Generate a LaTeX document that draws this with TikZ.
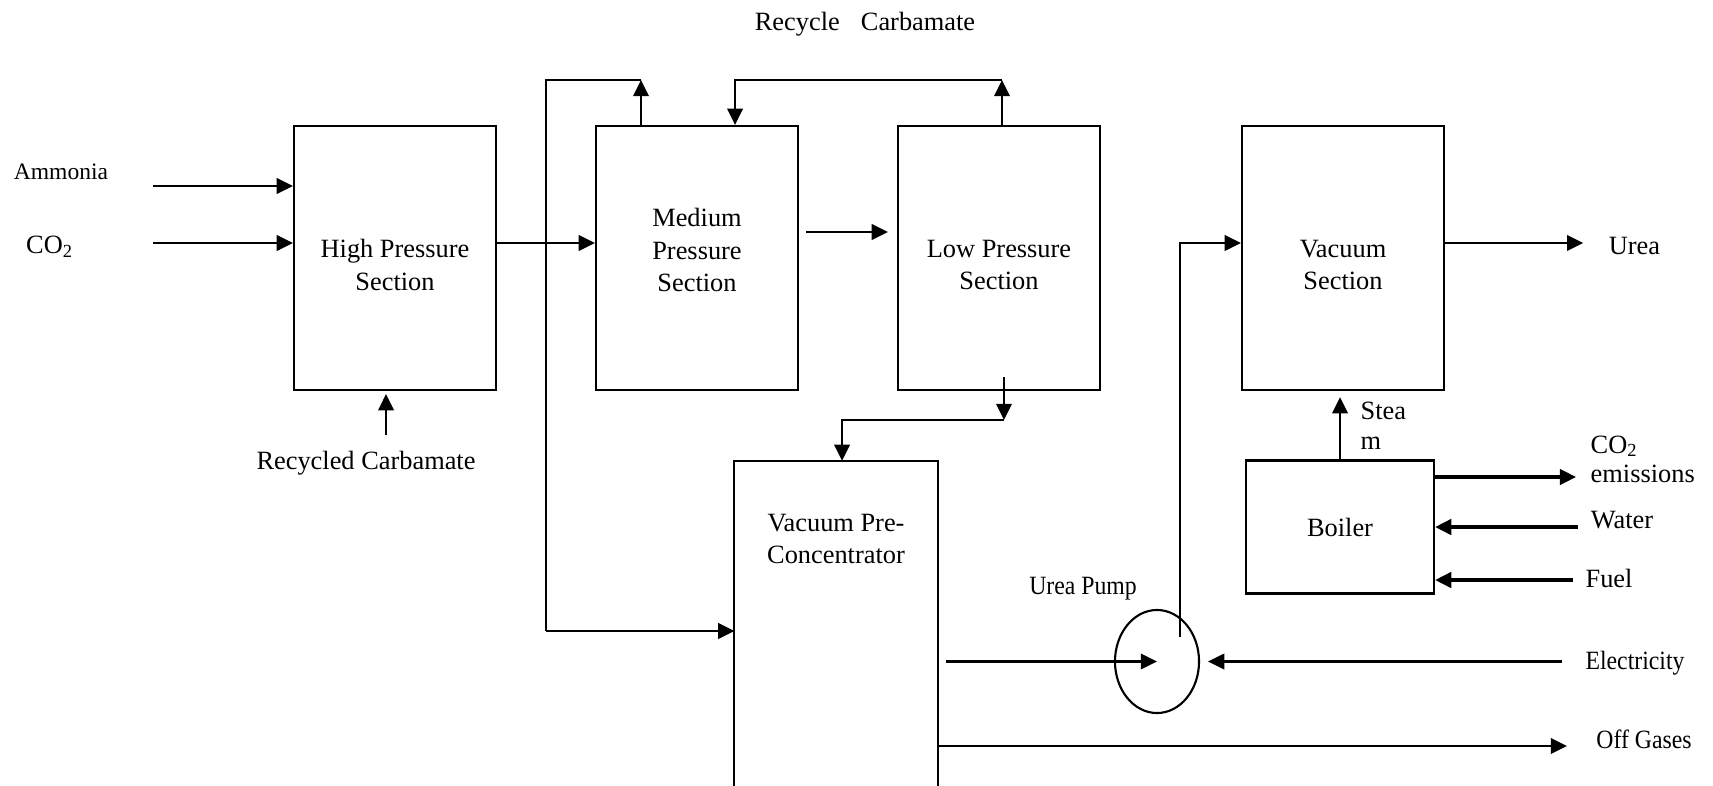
\documentclass[tikz,border=0pt]{standalone}
\usepackage{fontspec}
\setmainfont{Liberation Serif}
\newfontfamily\narrowserif[FakeStretch=0.9]{Liberation Serif}
\usetikzlibrary{arrows.meta,shapes.geometric,positioning}
\begin{document}
\begin{tikzpicture}[x=0.01cm, y=-0.01cm, line join=miter, >={Triangle[length=4.6pt,width=4.4pt]},
	font=\fontsize{7.5}{9.3}\selectfont,
	unit/.style={draw, line width=0.6pt, minimum width=2.02cm, minimum height=2.64cm, align=center, inner sep=0pt},
	unittext/.style={inner sep=0pt, align=center, yshift=#1},
	flow/.style={->, line width=0.6pt},
	heavy/.style={->, line width=0.9pt},
	lbl/.style={inner sep=0pt, align=left},
	narrow/.style={font=\narrowserif\fontsize{7.5}{9}\selectfont}]
	\useasboundingbox (0,0) rectangle (1713,785);
	
	% process units
	\node[unit, label={[unittext=-0.07cm]center:High Pressure\\Section}] (hp) at (395,258) {};
	\node[unit, label={[unittext=0.08cm]center:Medium\\Pressure\\Section}] (mp) at (697,258) {};
	\node[unit, label={[unittext=-0.07cm]center:Low Pressure\\Section}] (lp) at (999,258) {};
	\node[unit, label={[unittext=-0.07cm]center:Vacuum\\Section}] (vs) at (1343,258) {};
	\node[unit, minimum width=1.88cm, minimum height=1.33cm] (boiler) at (1340,527) {Boiler};
	\node[unit, draw=none, minimum width=2.01cm, minimum height=3.23cm] (vpc) at (836,623.5) {};
	\draw[line width=0.6pt] (vpc.south west) |- (vpc.north east) -- (vpc.south east);
	\node[lbl, align=center] (vpct) at (836,539) {Vacuum Pre-\\Concentrator};
	\node[draw, ellipse, line width=0.6pt, minimum width=0.84cm, minimum height=1.03cm, inner sep=0pt] (pump) at (1157,661.5) {};
	
	% stream labels
	\node[lbl, font=\fontsize{6.7}{8}\selectfont] (nh3) at (61,172) {Ammonia};
	\node[lbl] (co2) at (50,247) {CO\textsubscript{2}};
	\node[lbl] (rcb) at (366,463) {Recycled Carbamate};
	\node[lbl] (rct) at (865,24) {Recycle\hspace{6pt}Carbamate};
	\node[lbl] (urea) at (1634.5,246) {Urea};
	\node[lbl, anchor=west, font=\fontsize{7.5}{8.5}\selectfont] (steam) at (1360,425.5) {Stea\\m};
	\node[lbl, anchor=west, font=\fontsize{7.5}{8.2}\selectfont] (co2e) at (1590,459) {CO\textsubscript{2}\\emissions};
	\node[lbl] (water) at (1622,520) {Water};
	\node[lbl] (fuel) at (1609,578) {Fuel};
	\node[lbl, narrow] (elec) at (1635,663) {Electricity};
	\node[lbl, narrow] (offg) at (1644,739) {Off Gases};
	\node[lbl, narrow] (upump) at (1083,589) {Urea Pump};
	
	% free ends and bends
	\coordinate (nh3In) at (153,186);
	\coordinate (co2In) at (153,243);
	\coordinate (rcIn) at (386,435);
	\coordinate (topA) at (641,80);
	\coordinate (loopL) at (546,631);
	\coordinate (topB) at (1002,80);
	\coordinate (topC) at (735,80);
	\coordinate (mlp) at (850,232);
	\coordinate (lpOut) at (1004,377);
	\coordinate (lpBend) at (1004,420);
	\coordinate (vpcIn) at (842,420);
	\coordinate (pumpUp) at (1180,637);
	\coordinate (emis) at (1576,477);
	\coordinate (waterIn) at (1578,527);
	\coordinate (fuelIn) at (1573,580);
	\coordinate (offOut) at (1567,746);
	
	% feeds to the high pressure section
	\draw[flow] (nh3In) -- (nh3In -| hp.west);
	\draw[flow] (co2In) -- (co2In -| hp.west);
	\draw[flow, shorten >=0.03cm] (rcIn) -- (rcIn |- hp.south);
	\draw[flow] (co2In -| hp.east) -- (co2In -| mp.west);
	
	% carbamate recycle loops
	\draw[flow] (topA |- mp.north) -- (topA);
	\draw[line width=0.6pt] (topA) -| (loopL);
	\draw[flow] (loopL) -- (loopL -| vpc.west);
	\draw[flow] (topB |- lp.north) -- (topB);
	\draw[flow] (topB) -- (topC) -- (topC |- mp.north);
	
	% main line
	\draw[flow, shorten <=0.07cm, shorten >=0.09cm] (mlp -| mp.east) -- (mlp -| lp.west);
	\draw[flow] (lpOut) -- (lpBend);
	\draw[flow] (lpBend) -- (vpcIn) -- (vpcIn |- vpc.north);
	\draw[flow, shorten <=0.08cm] (pump.center -| vpc.east) -- (pump.center);
	\draw[flow, shorten <=0.23cm, shorten >=0.08cm] (pump.east -| elec.west) -- (pump.east);
	\draw[flow] (pumpUp) |- (co2In -| vs.west);
	\draw[flow, shorten >=0.25cm] (co2In -| vs.east) -- (co2In -| urea.west);
	\draw[flow] (offOut -| vpc.east) -- (offOut);
	
	% boiler
	\draw[flow, shorten >=0.06cm] (boiler.north) -- (boiler.north |- vs.south);
	\draw[heavy] (emis -| boiler.east) -- (emis);
	\draw[heavy] (waterIn) -- (waterIn -| boiler.east);
	\draw[heavy] (fuelIn) -- (fuelIn -| boiler.east);
\end{tikzpicture}
\end{document}
